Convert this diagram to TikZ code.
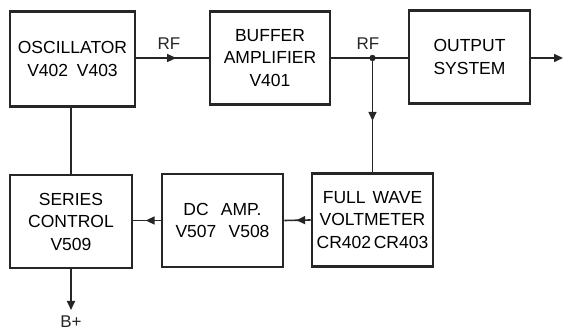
\documentclass[tikz,border=0pt]{standalone}
\usepackage{fontspec}
\setmainfont{Liberation Sans}
\usetikzlibrary{arrows.meta,decorations.markings}

\begin{document}
\begin{tikzpicture}[x=1pt,y=-1pt,
  blockbox/.style={draw=black!85, line width=2.6pt, minimum width=121pt, minimum height=93pt,
    align=center, inner sep=0pt, font=\fontsize{17.5}{22.5}\selectfont},
  wire/.style={draw=black!85, line width=1.6pt},
  tip/.style={-{Triangle[length=9pt,width=8pt]}},
  midarrow/.style={postaction={decorate}, decoration={markings,
    mark=at position 0.55 with {\arrow{Triangle[length=9pt,width=8pt]}}}},
  lbl/.style={font=\fontsize{17}{18}\selectfont, text=black!85}]
\useasboundingbox (0,0) rectangle (563,331);
% top row
\node[blockbox, minimum width=125pt, minimum height=95pt] (osc) at (72.5,59) {OSCILLATOR\\V402\hspace{0.5em}V403};
\node[blockbox, minimum width=120pt] (buf) at (270,58) {BUFFER\\AMPLIFIER\\V401};
\node[blockbox] (out) at (469.5,57) {OUTPUT\\SYSTEM};
% bottom row
\node[blockbox, minimum width=122pt] (ser) at (71,221.5) {SERIES\\CONTROL\\V509};
\node[blockbox] (dc) at (222.5,220.5) {DC\hspace{0.7em}AMP.\\V507\hspace{0.7em}V508};
\node[blockbox] (vm) at (372.5,220) {FULL\hspace{0.4em}WAVE\\VOLTMETER\\CR402\hspace{0.15em}CR403};
% junction and free ends
\coordinate (tap) at (372.5,58);
\coordinate (rfout) at (563,58);
\coordinate (bplus) at (71,310);
\fill[black!85] (tap) circle (3.2pt);
% connectors
\draw[wire, midarrow] (osc.east |- buf.west) -- (buf.west);
\draw[wire] (buf.east) -- (tap) -- (out.west |- tap);
\draw[wire, tip] (out.east |- rfout) -- (rfout);
\draw[wire, midarrow] (tap) -- (vm.north);
\draw[wire] (osc.south -| ser.north) -- (ser.north);
\draw[wire, midarrow] (vm.west) -- (dc.east);
\draw[wire, midarrow] (dc.west) -- (ser.east |- dc.west);
\draw[wire, tip] (ser.south) -- (bplus);
% labels
\node[lbl] (rf1) at (169,44) {RF};
\node[lbl] (rf2) at (368,44) {RF};
\node[lbl] (bp) at (71,322) {B+};
\end{tikzpicture}
\end{document}
